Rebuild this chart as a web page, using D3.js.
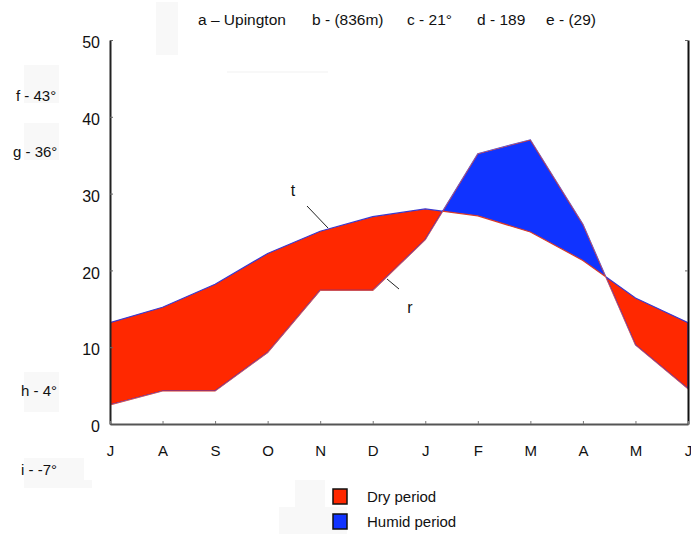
<!DOCTYPE html>
<html>
<head>
<meta charset="utf-8">
<script src="https://cdn.jsdelivr.net/npm/d3@7"></script>
<style>
  body { margin: 0; background: #fff; }
  text { font-family: "Liberation Sans", Arial, sans-serif; fill: #111; }
</style>
</head>
<body>
<div id="contenedor"></div>
<script>
// datos del climograma (julio a junio)
const meses = ["J", "A", "S", "O", "N", "D", "J", "F", "M", "A", "M", "J"];
const temperatura = [13.2, 15.2, 18.2, 22.2, 25.1, 27, 28, 27.1, 25, 21.3, 16.4, 13.2];
const precipitacion = [2.5, 4.3, 4.3, 9.3, 17.4, 17.4, 24, 35.2, 37, 26, 10.3, 4.6];
const ticksIzquierda = [0, 10, 20, 30, 40, 50];
const ticksDerecha = [20, 50];
const titulos = ["a – Upington", "b - (836m)", "c - 21°", "d - 189", "e - (29)"];
const notasIzquierda = ["f - 43°", "g - 36°", "h - 4°", "i - -7°"];
const leyenda = ["Dry period", "Humid period"];

const ANCHO = 691, ALTO = 534;
const ROJO = "#ff2800", AZUL = "#1033ff";
const X0 = 110, X1 = 688, Y0 = 424, Y1 = 40;

const $svg = d3.select("#contenedor").append("svg")
    .attr("width", ANCHO)
    .attr("height", ALTO);

// manchas casi blancas del original
const manchas = [[156, 2, 22, 53], [24, 65, 35, 38], [24, 123, 35, 37], [24, 372, 35, 40],
    [24, 458, 60, 22], [24, 480, 68, 8], [295, 480, 30, 27], [279, 507, 68, 27], [227, 71, 101, 2]];
$svg.selectAll("rect.mancha").data(manchas).join("rect")
    .attr("x", d => d[0]).attr("y", d => d[1])
    .attr("width", d => d[2]).attr("height", d => d[3])
    .attr("fill", "#f8f8f8");

const x = d3.scaleLinear().domain([0, meses.length - 1]).range([X0, X1]);
const y = d3.scaleLinear().domain([0, 50]).range([Y0, Y1]);

const datos = meses.map((m, i) => ({i, t: temperatura[i], r: precipitacion[i]}));

const defs = $svg.append("defs");
defs.append("clipPath").attr("id", "sobreR").append("path")
    .attr("d", d3.area().x(d => x(d.i)).y0(0).y1(d => y(d.r))(datos));
defs.append("clipPath").attr("id", "bajoR").append("path")
    .attr("d", d3.area().x(d => x(d.i)).y0(ALTO).y1(d => y(d.r))(datos));

const banda = d3.area().x(d => x(d.i)).y0(d => y(d.r)).y1(d => y(d.t));

// periodo seco: temperatura por encima de la precipitacion
$svg.append("path")
    .attr("d", banda(datos))
    .attr("clip-path", "url(#sobreR)")
    .attr("fill", ROJO)
    .attr("stroke", "#3a3ad0")
    .attr("stroke-width", 1.2);

// periodo humedo
$svg.append("path")
    .attr("d", banda(datos))
    .attr("clip-path", "url(#bajoR)")
    .attr("fill", AZUL)
    .attr("stroke", "#d83a2a")
    .attr("stroke-width", 1.2);

// ejes
const ejeIzq = $svg.append("g")
    .attr("transform", `translate(${X0},0)`)
    .call(d3.axisLeft(y).tickValues(ticksIzquierda).tickSizeInner(-3).tickSizeOuter(0).tickPadding(10));
ejeIzq.select(".domain").attr("stroke", "#222").attr("stroke-width", 2);
ejeIzq.selectAll(".tick line").attr("stroke", "#666");
ejeIzq.selectAll("text").attr("font-size", 16).attr("dy", "0.48em")
    .attr("font-family", "Liberation Sans, Arial, sans-serif").attr("fill", "#111");

const ejeDer = $svg.append("g")
    .attr("transform", `translate(${X1},0)`)
    .call(d3.axisLeft(y).tickValues(ticksDerecha).tickSizeInner(3).tickSizeOuter(0).tickFormat(""));
ejeDer.select(".domain").attr("stroke", "#111").attr("stroke-width", 2);
ejeDer.selectAll(".tick line").attr("stroke", "#666");

const ejeX = $svg.append("g")
    .attr("transform", `translate(0,${Y0})`)
    .call(d3.axisBottom(x).tickValues(d3.range(meses.length)).tickFormat(i => meses[i])
        .tickSizeInner(-3).tickSizeOuter(0).tickPadding(21));
ejeX.select(".domain").attr("stroke", "#555").attr("stroke-width", 2);
ejeX.selectAll(".tick line").attr("stroke", "#777");
ejeX.selectAll("text").attr("font-size", 15)
    .attr("font-family", "Liberation Sans, Arial, sans-serif").attr("fill", "#111");

// titulo superior
const xTitulos = [198, 312, 407, 477, 546];
$svg.selectAll("text.titulo").data(titulos).join("text")
    .attr("class", "titulo")
    .attr("x", (d, i) => xTitulos[i])
    .attr("y", 25)
    .attr("font-size", 15.5)
    .text(d => d);

// notas a la izquierda
const posNotas = [[16, 101], [13, 157], [21, 396], [21, 475]];
$svg.selectAll("text.nota").data(notasIzquierda).join("text")
    .attr("class", "nota")
    .attr("x", (d, i) => posNotas[i][0])
    .attr("y", (d, i) => posNotas[i][1])
    .attr("font-size", 15)
    .text(d => d);

// etiquetas t y r
$svg.append("line").attr("x1", 307).attr("y1", 206).attr("x2", 328).attr("y2", 228)
    .attr("stroke", "#222").attr("stroke-width", 1);
$svg.append("text").attr("x", 293).attr("y", 196).attr("text-anchor", "middle")
    .attr("font-size", 16).text("t");
$svg.append("line").attr("x1", 387).attr("y1", 279).attr("x2", 399).attr("y2", 289)
    .attr("stroke", "#222").attr("stroke-width", 1);
$svg.append("text").attr("x", 410).attr("y", 313).attr("text-anchor", "middle")
    .attr("font-size", 16).text("r");

// leyenda
const colores = [ROJO, AZUL];
const filas = $svg.selectAll("g.leyenda").data(leyenda).join("g")
    .attr("class", "leyenda")
    .attr("transform", (d, i) => `translate(333,${489 + i * 25})`);
filas.append("rect")
    .attr("width", 14).attr("height", 15)
    .attr("fill", (d, i) => colores[i])
    .attr("stroke", "#111").attr("stroke-width", 1.5);
filas.append("text")
    .attr("x", 34).attr("y", 13)
    .attr("font-size", 15)
    .text(d => d);
</script>
</body>
</html>
